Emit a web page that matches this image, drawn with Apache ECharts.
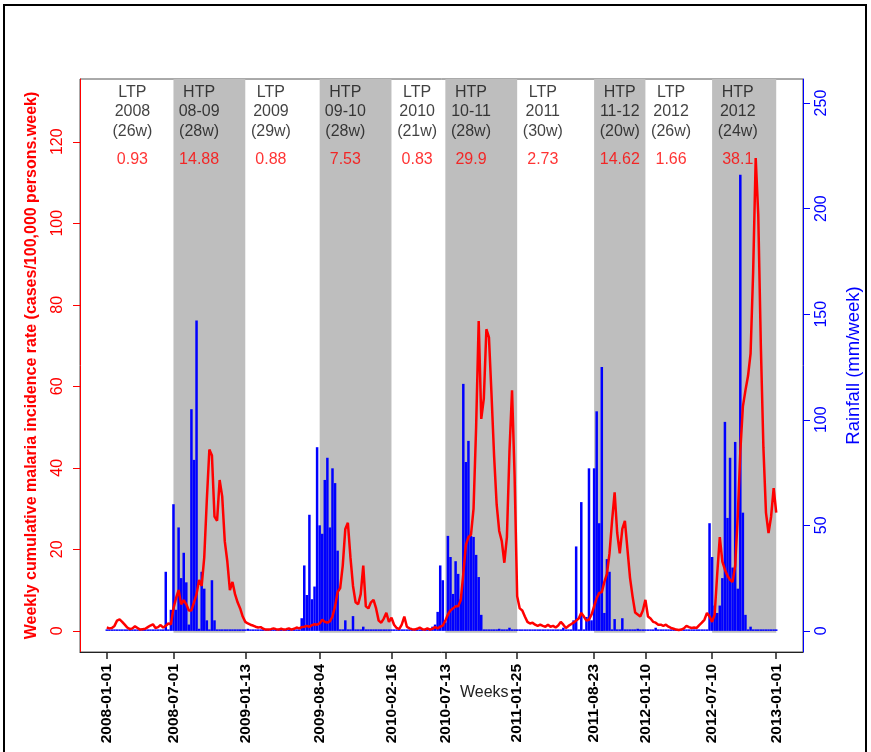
<!DOCTYPE html>
<html>
<head>
<meta charset="utf-8">
<script src="https://cdn.jsdelivr.net/npm/echarts@6/dist/echarts.min.js"></script>
<style>
html, body { margin: 0; padding: 0; background: #fff; }
#main { width: 871px; height: 752px; }
</style>
</head>
<body>
<div id="main"></div>
<script>
// one value per week, week 0 = 2008-01-01
var incidence = [
  0.8, 0.6, 0.7, 1.2, 2.5, 2.8, 2.2, 1.5, 0.8, 0.4,
  0.6, 1.1, 0.7, 0.3, 0.4, 0.5, 0.9, 1.3, 1.6, 0.7,
  0.9, 1.4, 0.8, 1.2, 1.8, 1.6, 5.5, 8, 10, 6.5,
  7.5, 6.5, 5, 5, 7, 9, 12.5, 11, 18, 32,
  44.5, 43, 28, 27, 37, 33, 22, 17, 10, 12,
  9, 7, 5.5, 3.5, 2.2, 1.8, 1.5, 1.3, 1.0, 0.8,
  0.9, 0.5, 0.3, 0.3, 0.4, 0.6, 0.4, 0.3, 0.5, 0.3,
  0.4, 0.6, 0.3, 0.5, 0.8, 0.6, 0.9, 1.0, 1.2, 1.0,
  1.4, 1.6, 1.5, 1.8, 2.7, 2.2, 2, 2.3, 3.5, 6,
  9.5, 10.5, 16, 25, 26.5, 18, 11, 7, 6.5, 9,
  16, 6, 5.5, 7, 7.6, 5.5, 2.5, 2, 3, 4.4,
  2.2, 3.2, 1.5, 0.7, 0.4, 1.5, 3.5, 1.0, 0.6, 0.4,
  0.3, 0.5, 0.8, 0.4, 0.3, 0.6, 0.3, 0.5, 0.9, 0.6,
  1.0, 1.3, 2.5, 4, 5, 5.5, 6, 6, 7.5, 14,
  21, 23, 23.6, 30, 50, 76, 52, 57, 74, 72,
  58, 43, 31, 24.5, 22, 16.7, 23, 44, 59, 38,
  8.5, 5.5, 5, 3.5, 2.2, 1.8, 2, 1.5, 1.2, 1.5,
  1.2, 1.0, 1.5, 1.0, 1.2, 0.8, 1.3, 2.2, 1.5, 0.7,
  1.2, 1.6, 2.0, 2.5, 3.0, 4.4, 3.5, 2.5, 2.7, 4,
  6, 8, 9.3, 9.5, 12, 14, 19, 27, 34, 24,
  19, 25, 27, 20, 13, 8.4, 4.5, 4, 3.5, 5,
  7.6, 3.5, 3, 2.2, 2, 1.5, 1.5, 1.2, 1.5, 1,
  0.7, 0.5, 0.3, 0.2, 0.3, 0.6, 1.2, 0.9, 0.7, 0.8,
  0.7, 1.4, 2, 2.7, 4.4, 3.5, 2.2, 4, 14, 23,
  17, 15, 13.5, 12.5, 12, 16, 28, 44, 55, 59,
  62.5, 68, 88, 116, 102, 70, 45, 29, 24, 28,
  35, 29
];

var rainfall = [
  0, 0, 0, 0, 0, 0, 0, 0, 0, 0,
  0, 0, 0, 0, 0, 0, 0, 0, 0, 0,
  0, 0, 0, 28, 0, 10, 60, 10, 49, 25,
  37, 23, 3, 105, 81, 147, 1, 28, 20, 5,
  0, 24, 5, 0, 0, 0, 0, 0, 0, 0,
  0, 0, 0, 0, 0, 1, 0, 0, 0, 0,
  0, 0, 0, 0, 0, 0, 0, 0, 0, 0,
  0, 0, 0, 0, 0, 0, 6, 31, 17, 55,
  15, 21, 87, 50, 46, 71.5, 82, 49, 77, 70,
  38, 0, 0, 5, 0, 0, 7, 0, 0, 0,
  2, 0, 0, 0, 0, 0, 0, 0, 0, 0,
  0, 0, 0, 0, 0, 0, 0, 0, 0, 0,
  0, 0, 0, 0, 0, 0, 0, 2, 3, 9,
  31, 24, 4, 45, 35, 17.5, 33, 27, 15, 117,
  80, 90, 45, 44.5, 36, 25.5, 7.6, 0, 0, 0,
  0, 0, 0, 1, 0, 0, 0, 1.5, 0, 0,
  0, 0, 0, 0, 0, 0, 0, 0, 0, 0,
  0, 0, 0, 0, 0, 0, 0, 0, 1.5, 0,
  0, 0, 5, 40, 0, 61, 0, 6.6, 77, 5,
  77, 104, 51, 125, 8.5, 34, 28, 0, 5.6, 0,
  0, 6, 0, 0, 0, 0, 0, 1, 0, 0,
  0, 0, 0, 0, 1.5, 0, 0, 0, 0, 0,
  0, 0, 0, 0, 0, 0, 0, 0, 0, 0,
  0, 0, 0, 0, 0, 51, 35, 12, 8.5, 12,
  25, 99, 53.5, 82, 30, 89.5, 20, 216, 56, 7.6,
  0, 2, 0, 0, 0, 0, 0, 0, 0, 0,
  0, 0
];

var tickWeeks = [0, 26, 54, 83, 111, 132, 160, 190, 210, 236, 261];
var tickLabels = ['2008-01-01', '2008-07-01', '2009-01-13', '2009-08-04', '2010-02-16',
  '2010-07-13', '2011-01-25', '2011-08-23', '2012-01-10', '2012-07-10', '2013-01-01'];

var periodType = ['LTP', 'HTP', 'LTP', 'HTP', 'LTP', 'HTP', 'LTP', 'HTP', 'LTP', 'HTP'];
var periodName = ['2008', '08-09', '2009', '09-10', '2010', '10-11', '2011', '11-12', '2012', '2012'];
var periodLength = [26, 28, 29, 28, 21, 28, 30, 20, 26, 24];
var periodRate = ['0.93', '14.88', '0.88', '7.53', '0.83', '29.9', '2.73', '14.62', '1.66', '38.1'];

var leftTicks = [0, 20, 40, 60, 80, 100, 120];
var rightTicks = [0, 50, 100, 150, 200, 250];

var font = 'Liberation Sans, Arial, sans-serif';
var yMin = -5.2, yMax = 135.4;

var linePts = incidence.map(function (v, i) { return [i, v]; });
var barPts = rainfall.map(function (v, i) { return [i, v]; });

// shaded high transmission periods, between consecutive tick dates
var areas = [];
for (var i = 0; i < periodType.length; i++) {
  if (periodType[i] === 'HTP') {
    areas.push([{ xAxis: tickWeeks[i], yAxis: -0.5 }, { xAxis: tickWeeks[i + 1], yAxis: yMax }]);
  }
}
var headPts = tickWeeks.slice(0, 10).map(function (w) { return [w + 10, 127.4]; });
var ratePts = tickWeeks.slice(0, 10).map(function (w) { return [w + 10, 115.6]; });

var chart = echarts.init(document.getElementById('main'));
chart.setOption({
  animation: false,
  backgroundColor: '#fff',
  textStyle: { fontFamily: font },
  title: {
    text: 'Weeks', left: 460, top: 685, padding: 0,
    textStyle: { fontSize: 16, fontWeight: 'normal', color: '#222', fontFamily: font }
  },
  graphic: [{
    type: 'rect', shape: { x: 4, y: 5, width: 862, height: 770 },
    style: { fill: 'none', stroke: '#000', lineWidth: 2 }, silent: true
  }],
  grid: { left: 80, right: 66, top: 79, bottom: 100, show: true, borderColor: '#555', borderWidth: 1 },
  xAxis: {
    type: 'value', min: -10.44, max: 271.44,
    splitLine: { show: false },
    axisLine: { onZero: false, lineStyle: { color: '#222' } },
    axisTick: { customValues: tickWeeks, length: 7, lineStyle: { color: '#222', width: 1.5 } },
    axisLabel: {
      customValues: tickWeeks, rotate: 90, margin: 12,
      fontSize: 15.5, fontWeight: 'bold', color: '#000', fontFamily: font,
      formatter: function (v) { return tickLabels[tickWeeks.indexOf(v)]; }
    }
  },
  yAxis: [{
    type: 'value', min: yMin, max: yMax, position: 'left',
    name: 'Weekly cumulative malaria incidence rate (cases/100,000 persons.week)',
    nameLocation: 'middle', nameGap: 40,
    nameTextStyle: { color: '#FF0000', fontWeight: 'bold', fontSize: 16, fontFamily: font },
    splitLine: { show: false },
    axisLine: { show: true, onZero: false, lineStyle: { color: '#FF0000' } },
    axisTick: { show: true, customValues: leftTicks, length: 7, lineStyle: { color: '#FF0000' } },
    axisLabel: { customValues: leftTicks, rotate: 90, margin: 14, fontSize: 16, color: '#FF0000', fontFamily: font }
  }, {
    type: 'value', min: -10, max: 261.4, position: 'right',
    name: 'Rainfall (mm/week)',
    nameLocation: 'middle', nameGap: 41,
    nameTextStyle: { color: '#0000FF', fontSize: 18.5, fontFamily: font },
    splitLine: { show: false },
    axisLine: { show: true, onZero: false, lineStyle: { color: '#0000FF' } },
    axisTick: { show: true, customValues: rightTicks, length: 7, lineStyle: { color: '#0000FF' } },
    axisLabel: { customValues: rightTicks, rotate: 90, margin: 11, fontSize: 16, color: '#0000FF', fontFamily: font }
  }],
  series: [{
    type: 'line', data: [], z: 1, silent: true,
    markArea: { silent: true, itemStyle: { color: '#BEBEBE' }, data: areas }
  }, {
    name: 'Rainfall', type: 'bar', yAxisIndex: 1, data: barPts, z: 2,
    barWidth: 2.5, barMinHeight: 1.5,
    itemStyle: { color: '#0000FF' }
  }, {
    name: 'Incidence', type: 'line', yAxisIndex: 0, data: linePts, z: 3,
    symbol: 'none', lineStyle: { color: '#FF0000', width: 2.5 }
  }, {
    type: 'scatter', data: headPts, symbolSize: 0, z: 4, silent: true,
    label: {
      show: true, position: 'inside', color: '#111', fontSize: 16, lineHeight: 19.5, fontFamily: font,
      formatter: function (p) {
        var k = p.dataIndex;
        return periodType[k] + '\n' + periodName[k] + '\n(' + periodLength[k] + 'w)';
      }
    }
  }, {
    type: 'scatter', data: ratePts, symbolSize: 0, z: 4, silent: true,
    label: {
      show: true, position: 'inside', color: '#FF0000', fontSize: 16, fontFamily: font,
      formatter: function (p) { return periodRate[p.dataIndex]; }
    }
  }]
});
</script>
</body>
</html>
